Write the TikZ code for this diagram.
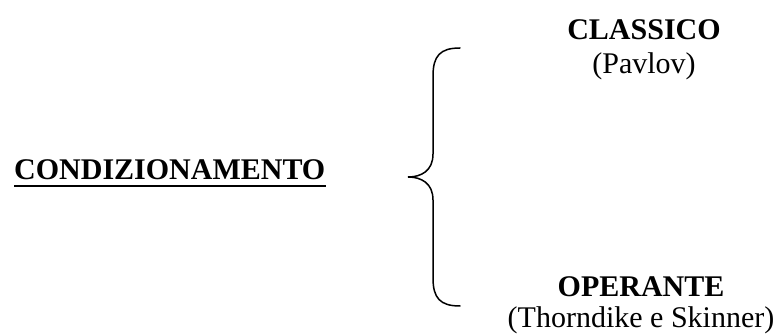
\documentclass[tikz,border=0pt]{standalone}
\usepackage{fontspec}
\setmainfont{Liberation Serif}
\usetikzlibrary{positioning}

\begin{document}
\begin{tikzpicture}[
      x=1pt,y=-1pt,
      head/.style={font=\fontsize{30}{36}\selectfont\bfseries,inner sep=0pt,anchor=base},
      sub/.style={font=\fontsize{30}{36}\selectfont,inner sep=0pt,anchor=base},
      brace/.style={draw=black,line width=1.5pt,line cap=round}]
    \useasboundingbox (0,0) rectangle (782,336);
    \node[head,anchor=base west] (cond) at (14,180) {CONDIZIONAMENTO};
    \draw[line width=2.2pt] ([yshift=-6pt]cond.base west) -- ([yshift=-6pt]cond.base east);
    \node[head] (classico) at (644,40) {CLASSICO};
    \node[sub] (pavlov) at (644,74) {(Pavlov)};
    \node[head] (operante) at (641,297) {OPERANTE};
    \node[sub] (autori) at (641,328) {(Thorndike e Skinner)};
    % graffa
    \coordinate (gtop) at (460,48);
    \coordinate (gtip) at (408,177);
    \coordinate (gbot) at (460,306);
    \draw[brace] (gtop) .. controls (440,48) and (433,56) .. (433,76)
      -- (433,154) .. controls (433,171) and (421,177) .. (gtip)
      .. controls (421,177) and (433,183) .. (433,200)
      -- (433,278) .. controls (433,298) and (440,306) .. (gbot);
  \end{tikzpicture}
\end{document}
